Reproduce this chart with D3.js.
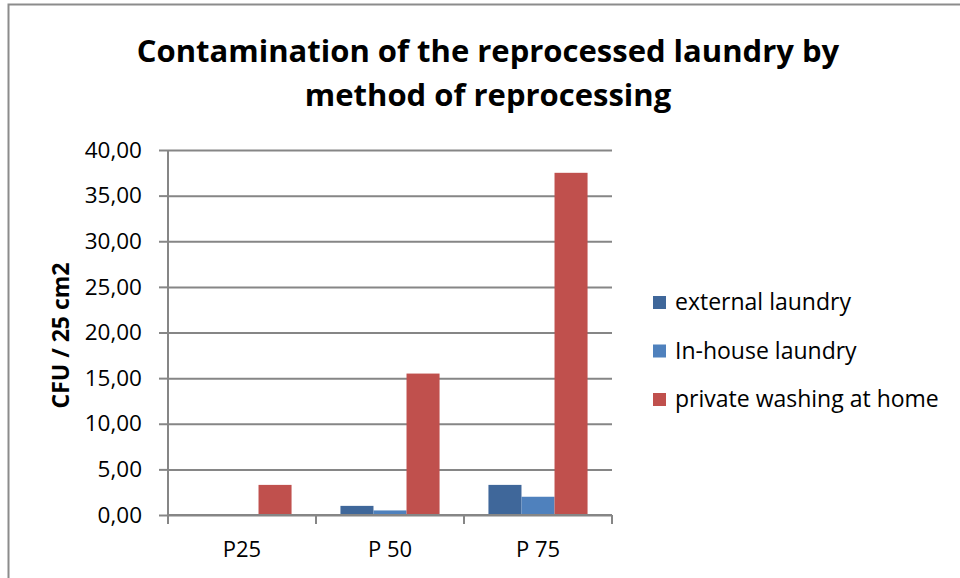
<!DOCTYPE html>
<html>
<head>
<meta charset="utf-8">
<script src="https://cdn.jsdelivr.net/npm/d3@7"></script>
<style>
  body { margin: 0; background: #fff; }
  svg { display: block; }
  svg text { font-family: "Open Sans", sans-serif; }
</style>
</head>
<body>
<div id="chart"></div>
<script>
// data
const categories = ["P25", "P 50", "P 75"];
const series = ["external laundry", "In-house laundry", "private washing at home"];
const externalLaundry = [0, 1.0, 3.3];
const inHouseLaundry = [0, 0.5, 2.0];
const privateWashing = [3.3, 15.5, 37.5];
const yTicks = [0, 5, 10, 15, 20, 25, 30, 35, 40];
const colors = ["#3f679a", "#4f81bd", "#c0504d"];

const values = [externalLaundry, inHouseLaundry, privateWashing];
const data = categories.flatMap((c, i) => series.map((s, j) => ({cat: c, series: s, value: values[j][i]})));

const width = 960, height = 578;
const marginLeft = 168, marginRight = 348, marginTop = 150, marginBottom = 63;

const svg = d3.select("#chart").append("svg")
    .attr("width", width)
    .attr("height", height)
    .attr("viewBox", [0, 0, width, height]);

// outer chart-area border (runs off right/bottom edges)
svg.append("path")
    .attr("d", `M8.5,${height + 2}V4.5H${width + 2}`)
    .attr("fill", "none")
    .attr("stroke", "#8c8c8c")
    .attr("stroke-width", 2);

const x = d3.scaleBand(categories, [marginLeft, width - marginRight]);
const xz = d3.scaleBand(series, [0, x.bandwidth()]).paddingOuter(0.74).paddingInner(0);
const y = d3.scaleLinear([0, 40], [height - marginBottom, marginTop]);
const color = d3.scaleOrdinal(series, colors);

// y axis with gridlines
svg.append("g")
    .attr("transform", `translate(${marginLeft},0)`)
    .call(d3.axisLeft(y).tickValues(yTicks).tickSize(9).tickPadding(17)
        .tickFormat(d => d3.format(".2f")(d).replace(".", ",")))
    .attr("font-family", null)
    .call(g => g.select(".domain").attr("stroke", "#868686").attr("stroke-width", 2).attr("d", `M0,${y(40)}V${y(0)}`))
    .call(g => g.selectAll(".tick line").attr("stroke", "#868686").attr("stroke-width", 2))
    .call(g => g.selectAll(".tick line").clone()
        .attr("x1", 0)
        .attr("x2", width - marginLeft - marginRight))
    .call(g => g.selectAll(".tick text").attr("font-size", 22.5).attr("fill", "#000"));

// bars
svg.append("g")
  .selectAll("rect")
  .data(data)
  .join("rect")
    .attr("x", d => x(d.cat) + xz(d.series))
    .attr("y", d => y(d.value))
    .attr("width", xz.bandwidth())
    .attr("height", d => y(0) - y(d.value))
    .attr("fill", d => color(d.series));

// x axis
svg.append("g")
    .attr("transform", `translate(0,${y(0)})`)
    .call(d3.axisBottom(x).tickSize(0).tickPadding(26))
    .attr("font-family", null)
    .call(g => g.select(".domain").attr("stroke", "#868686").attr("stroke-width", 2).attr("d", `M${marginLeft},0H${width - marginRight}`))
    .call(g => g.selectAll(".tick text").attr("font-size", 22).attr("fill", "#000"))
    .call(g => g.selectAll(".sep")
        .data([...categories.map(c => x(c)), width - marginRight])
        .join("line")
        .attr("x1", d => d).attr("x2", d => d)
        .attr("y1", 0).attr("y2", 9)
        .attr("stroke", "#868686").attr("stroke-width", 2));

// title
svg.append("text")
    .attr("text-anchor", "middle")
    .attr("font-size", 31)
    .attr("font-weight", "bold")
    .selectAll("tspan")
    .data(["Contamination of the reprocessed laundry by", "method of reprocessing"])
    .join("tspan")
      .attr("x", 488)
      .attr("y", (d, i) => 62 + i * 44)
      .text(d => d);

// y label
svg.append("text")
    .attr("transform", `translate(69,${(y(0) + y(40)) / 2 + 3}) rotate(-90)`)
    .attr("text-anchor", "middle")
    .attr("font-size", 23)
    .attr("font-weight", "bold")
    .text("CFU / 25 cm2");

// legend
const legend = svg.append("g")
  .selectAll("g")
  .data(series)
  .join("g")
    .attr("transform", (d, i) => `translate(653,${302 + i * 48.5})`);

legend.append("rect")
    .attr("y", -6)
    .attr("width", 13)
    .attr("height", 13)
    .attr("fill", d => color(d));

legend.append("text")
    .attr("x", 22)
    .attr("dy", "0.35em")
    .attr("font-size", 23)
    .text(d => d);
</script>
</body>
</html>
